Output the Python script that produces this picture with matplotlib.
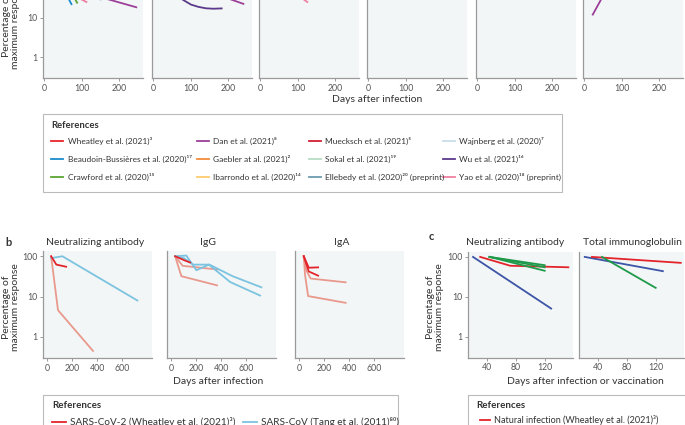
import matplotlib
matplotlib.use("Agg")
import matplotlib.pyplot as plt
from matplotlib.lines import Line2D
from matplotlib.patches import Rectangle

plt.rcParams['font.family'] = ['Lato', 'DejaVu Sans']

W, H = 685, 425
fig = plt.figure(figsize=(6.85, 4.25), dpi=100)

TXT = '#333333'
BG = '#f2f6f7'
SPINE = '#9a9a9a'

# ---- panel a legend (reference, colour)
a_refs = ['Wheatley et al. (2021)³', 'Beaudoin-Bussières et al. (2020)¹⁷', 'Crawford et al. (2020)¹⁵',
          'Dan et al. (2021)⁸', 'Gaebler at al. (2021)²', 'Ibarrondo et al. (2020)¹⁴',
          'Muecksch et al. (2021)⁵', 'Sokal et al. (2021)¹⁹', 'Ellebedy et al. (2020)²⁰ (preprint)',
          'Wajnberg et al. (2020)⁷', 'Wu et al. (2021)¹⁶', 'Yao et al. (2020)¹⁸ (preprint)']
a_cols = ['#e8232b', '#1a8ccc', '#5ba534',
          '#9c3f98', '#f28c3b', '#fdcc6e',
          '#d41f35', '#b8dcc4', '#6c9bb1',
          '#c9dcea', '#5b3a8b', '#ef7fa1']

# ---- panel a data (only the lower part of panel a is visible)
a1_beaudoin_d = [35, 72];        a1_beaudoin_v = [100, 22]
a1_crawford_d = [50, 87];        a1_crawford_v = [100, 24]
a1_yao_d = [60, 112];            a1_yao_v = [45, 25]
a1_dan_d = [100, 245];           a1_dan_v = [45, 18.4]
a1_wajnberg_d = [60, 150];       a1_wajnberg_v = [80, 28]
a2_wu_d = [50, 78, 100, 120, 140, 160, 182]
a2_wu_v = [60, 28.6, 21.5, 18.8, 17.3, 16.9, 17.2]
a2_dan_d = [150, 240];           a2_dan_v = [45, 22.4]
a3_yao_d = [80, 125];            a3_yao_v = [50, 25]
a6_dan_d = [22, 70];             a6_dan_v = [12, 80]

# ---- panel b data
RED = '#e3242b'
SALMON = '#e9998c'
SKY = '#7cc3e0'
NAVY = '#3c55a6'
GREEN = '#1f9a4a'

b1_cov2_d = [30, 72, 150];       b1_cov2_v = [100, 62, 55]
b1_cov_d = [30, 120, 720];       b1_cov_v = [90, 100, 8]
b1_oth_d = [30, 85, 365];        b1_oth_v = [100, 4.6, 0.45]

b2_cov2_d = [30, 110, 150];      b2_cov2_v = [100, 78, 70]
b2_cov_a_d = [30, 120, 200, 300, 470, 710]
b2_cov_a_v = [100, 104, 45, 62, 23, 10.6]
b2_cov_b_d = [30, 100, 175, 305, 490, 720]
b2_cov_b_v = [100, 90, 62, 62, 32, 17]
b2_oth_a_d = [30, 80, 365];      b2_oth_a_v = [100, 32, 19]
b2_oth_b_d = [30, 90, 365];      b2_oth_b_v = [100, 58, 47]

b3_cov2_a_d = [35, 75, 150];     b3_cov2_a_v = [100, 52, 53]
b3_cov2_b_d = [35, 75, 150];     b3_cov2_b_v = [100, 42, 33]
b3_oth_a_d = [35, 55, 90, 370];  b3_oth_a_v = [100, 45, 28, 22.6]
b3_oth_b_d = [35, 45, 70, 370];  b3_oth_b_v = [100, 35, 10.3, 7]

# ---- panel c data
c1_navy_d = [20, 129];           c1_navy_v = [100, 5.1]
c1_nat_d = [30, 72, 153];        c1_nat_v = [100, 60, 55]
c1_g1_d = [43, 120];             c1_g1_v = [100, 62]
c1_g2_d = [43, 120];             c1_g2_v = [100, 55]
c1_g3_d = [43, 120];             c1_g3_v = [100, 45]
c2_navy_d = [21, 130];           c2_navy_v = [100, 44]
c2_nat_d = [31, 155];            c2_nat_v = [100, 71]
c2_g_d = [45, 120];              c2_g_v = [100, 16.8]

yticks = [1, 10, 100]
ytlabels = ['1', '10', '100']


def px_axes(x0, y0, x1, y1):
    return fig.add_axes([x0 / W, 1 - y1 / H, (x1 - x0) / W, (y1 - y0) / H])


def style(ax, xlim, xticks, show_y):
    ax.set_facecolor(BG)
    ax.set_yscale('log')
    ax.set_ylim(0.3, 135)
    ax.set_xlim(*xlim)
    ax.set_xticks(xticks)
    ax.set_yticks(yticks)
    ax.minorticks_off()
    ax.set_yticklabels(ytlabels if show_y else [])
    for s in ['top', 'right']:
        ax.spines[s].set_visible(False)
    for s in ['left', 'bottom']:
        ax.spines[s].set_color(SPINE)
        ax.spines[s].set_linewidth(0.9)
    ax.tick_params(colors=SPINE, labelcolor='#555555', labelsize=6.3, length=2.5, width=0.7, pad=1.5)
    if not show_y:
        ax.tick_params(axis='y', length=0)


def text(x, y, s, **kw):
    kw.setdefault('color', TXT)
    kw.setdefault('va', 'center')
    fig.text(x / W, 1 - y / H, s, **kw)


lw = 1.3

# ---------------- panel a
a_left = [43, 152, 259, 367, 476, 583]
axa = []
for i, x0 in enumerate(a_left):
    ax = px_axes(x0, -27, x0 + 100, 78)
    style(ax, (-4, 263), [0, 100, 200], i == 0)
    axa.append(ax)

c = dict(zip(['wheatley', 'beaudoin', 'crawford', 'dan', 'gaebler', 'ibarrondo',
              'muecksch', 'sokal', 'ellebedy', 'wajnberg', 'wu', 'yao'], a_cols))
axa[0].plot(a1_wajnberg_d, a1_wajnberg_v, color=c['wajnberg'], lw=lw)
axa[0].plot(a1_beaudoin_d, a1_beaudoin_v, color=c['beaudoin'], lw=lw)
axa[0].plot(a1_crawford_d, a1_crawford_v, color=c['crawford'], lw=lw)
axa[0].plot(a1_yao_d, a1_yao_v, color=c['yao'], lw=lw)
axa[0].plot(a1_dan_d, a1_dan_v, color=c['dan'], lw=lw)
axa[1].plot(a2_wu_d, a2_wu_v, color=c['wu'], lw=lw)
axa[1].plot(a2_dan_d, a2_dan_v, color=c['dan'], lw=lw)
axa[2].plot(a3_yao_d, a3_yao_v, color=c['yao'], lw=lw)
axa[5].plot(a6_dan_d, a6_dan_v, color=c['dan'], lw=lw)

text(11, 25, 'Percentage of\nmaximum response', rotation=90, ha='center', size=7.5, linespacing=1.0)
text(377, 99, 'Days after infection', ha='center', size=7.5)

# legend a
fig.add_artist(Rectangle((43 / W, 1 - 192 / H), (562 - 43) / W, (192 - 114) / H,
                         transform=fig.transFigure, fill=False, edgecolor='#bbbbbb', lw=0.8))
text(51, 125, 'References', weight='bold', size=6.8)
line_x = [51, 197, 309, 443]
text_x = [68, 213, 325, 459]
row_y = [141, 158.5, 176.5]
for k, (lab, col) in enumerate(zip(a_refs, a_cols)):
    ci, ri = divmod(k, 3)
    y = 1 - row_y[ri] / H
    fig.add_artist(Line2D([line_x[ci] / W, (line_x[ci] + 12) / W], [y, y],
                          transform=fig.transFigure, color=col, lw=1.3))
    text(text_x[ci], row_y[ri], lab, size=6)

# ---------------- panel b
b_left = [43, 167, 295]
axb = []
for i, x0 in enumerate(b_left):
    ax = px_axes(x0, 251, x0 + 109, 358)
    style(ax, (-35, 837), [0, 200, 400, 600], i == 0)
    axb.append(ax)

axb[0].plot(b1_oth_d, b1_oth_v, color=SALMON, lw=lw)
axb[0].plot(b1_cov_d, b1_cov_v, color=SKY, lw=lw)
axb[0].plot(b1_cov2_d, b1_cov2_v, color=RED, lw=lw)
axb[1].plot(b2_oth_a_d, b2_oth_a_v, color=SALMON, lw=lw)
axb[1].plot(b2_oth_b_d, b2_oth_b_v, color=SALMON, lw=lw)
axb[1].plot(b2_cov_a_d, b2_cov_a_v, color=SKY, lw=lw)
axb[1].plot(b2_cov_b_d, b2_cov_b_v, color=SKY, lw=lw)
axb[1].plot(b2_cov2_d, b2_cov2_v, color=RED, lw=lw)
axb[2].plot(b3_oth_a_d, b3_oth_a_v, color=SALMON, lw=lw)
axb[2].plot(b3_oth_b_d, b3_oth_b_v, color=SALMON, lw=lw)
axb[2].plot(b3_cov2_a_d, b3_cov2_a_v, color=RED, lw=lw)
axb[2].plot(b3_cov2_b_d, b3_cov2_b_v, color=RED, lw=lw)

text(5, 242, 'b', weight='bold', size=8)
text(95, 242, 'Neutralizing antibody', ha='center', size=7.5)
text(208, 242, 'IgG', ha='center', size=7.5)
text(342, 242, 'IgA', ha='center', size=7.5)
text(11, 307, 'Percentage of\nmaximum response', rotation=90, ha='center', size=7.5, linespacing=1.0)
text(218, 382, 'Days after infection', ha='center', size=7.5)

fig.add_artist(Rectangle((43 / W, 1 - 440 / H), (398 - 43) / W, (440 - 395) / H,
                         transform=fig.transFigure, fill=False, edgecolor='#bbbbbb', lw=0.8))
text(52, 405, 'References', weight='bold', size=7)
for x0, col, lab in [(52, RED, 'SARS-CoV-2 (Wheatley et al. (2021)³)'),
                     (243, SKY, 'SARS-CoV (Tang et al. (2011)⁸⁰)')]:
    y = 1 - 422 / H
    fig.add_artist(Line2D([x0 / W, (x0 + 14) / W], [y, y], transform=fig.transFigure, color=col, lw=1.3))
    text(x0 + 18, 422, lab, size=7.2)

# ---------------- panel c
c_left = [468, 579]
axc = []
for i, x0 in enumerate(c_left):
    ax = px_axes(x0, 251.7, x0 + 105, 357.7)
    style(ax, (13, 159.5), [40, 80, 120], i == 0)
    axc.append(ax)

axc[0].plot(c1_navy_d, c1_navy_v, color=NAVY, lw=lw)
axc[0].plot(c1_nat_d, c1_nat_v, color=RED, lw=lw)
axc[0].plot(c1_g1_d, c1_g1_v, color=GREEN, lw=lw)
axc[0].plot(c1_g2_d, c1_g2_v, color=GREEN, lw=lw)
axc[0].plot(c1_g3_d, c1_g3_v, color=GREEN, lw=lw)
axc[1].plot(c2_navy_d, c2_navy_v, color=NAVY, lw=lw)
axc[1].plot(c2_nat_d, c2_nat_v, color=RED, lw=lw)
axc[1].plot(c2_g_d, c2_g_v, color=GREEN, lw=lw)

text(429, 237, 'c', weight='bold', size=8)
text(515, 242, 'Neutralizing antibody', ha='center', size=7.5)
text(632, 242, 'Total immunoglobulin', ha='center', size=7.5)
text(435, 307, 'Percentage of\nmaximum response', rotation=90, ha='center', size=7.5, linespacing=1.0)
text(585, 382, 'Days after infection or vaccination', ha='center', size=7.5)

fig.add_artist(Rectangle((468 / W, 1 - 440 / H), (700 - 468) / W, (440 - 395) / H,
                         transform=fig.transFigure, fill=False, edgecolor='#bbbbbb', lw=0.8))
text(476, 405, 'References', weight='bold', size=7)
y = 1 - 420 / H
fig.add_artist(Line2D([480 / W, 490 / W], [y, y], transform=fig.transFigure, color=RED, lw=1.3))
text(494, 420, 'Natural infection (Wheatley et al. (2021)³)', size=6.5)

fig.savefig('out.png', dpi=100)
